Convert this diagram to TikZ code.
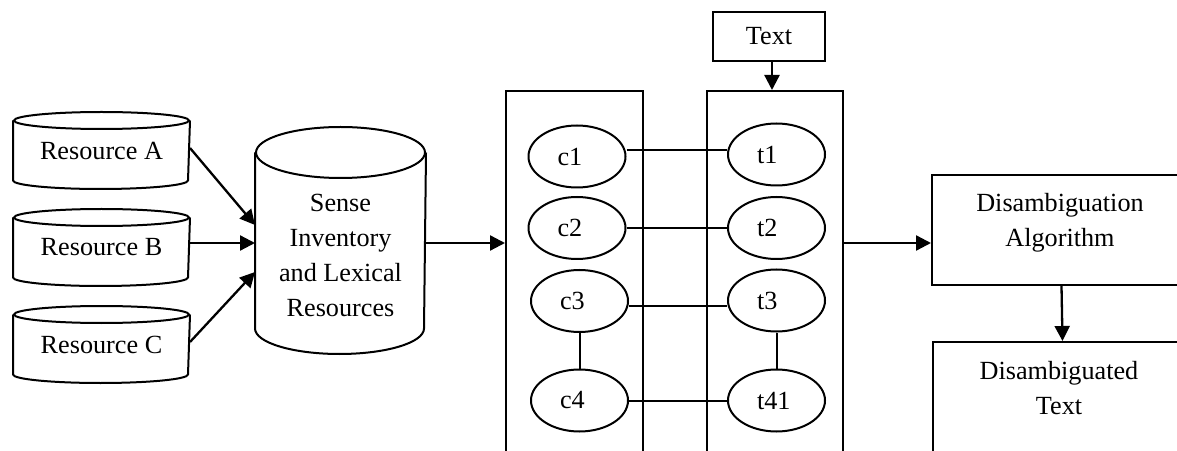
\documentclass[tikz,border=0pt]{standalone}
\usepackage{fontspec}
\setmainfont{Liberation Serif}
\usetikzlibrary{shapes.geometric,arrows.meta,calc}

% cylinder outline drawn around a body node: #1 node, #2 x radius, #3 y radius
\newcommand\drawcyl[3]{%
  \draw (#1.north west) -- (#1.south west)
        arc[start angle=180, end angle=360, x radius=#2, y radius=#3]
        -- (#1.north east);
  \draw (#1.north) ellipse [x radius=#2, y radius=#3];
}

\begin{document}
\begin{tikzpicture}[
  x=0.5pt, y=0.5pt,
  line width=1pt,
  every node/.style={font=\fontsize{13.1pt}{17.6pt}\selectfont},
  txt/.style={align=center, inner sep=0pt},
  cylbody/.style={minimum width=87.5pt, minimum height=29pt, inner sep=0pt},
  bigcyl/.style={minimum width=84.5pt, minimum height=87pt, inner sep=0pt},
  panel/.style={draw, minimum width=68.5pt, minimum height=184.5pt, inner sep=0pt},
  box/.style={draw, inner sep=0pt},
  ell/.style={ellipse, draw, minimum width=48.5pt, minimum height=31pt, inner sep=0pt},
  lbl/.style={anchor=west, inner sep=0pt},
  link/.style={line width=1pt},
  arr/.style={line width=1.15pt, -{Triangle[length=7.5pt, width=7.5pt]}}
]
\useasboundingbox (0,0) rectangle (1177,450);
\clip (0,0) rectangle (1177,450);

% resource cylinders
\node[cylbody] (ra) at (101.5,299.5) {Resource A};
\node[cylbody] (rb) at (101.5,202.5) {Resource B};
\node[cylbody] (rc) at (101.5,105.5) {Resource C};
\drawcyl{ra}{43.75pt}{4.25pt}
\drawcyl{rb}{43.75pt}{4.25pt}
\drawcyl{rc}{43.75pt}{4.25pt}

% sense inventory cylinder
\node[bigcyl] (sense) at (340.5,209.5) {};
\drawcyl{sense}{42.25pt}{12.75pt}
\node[txt, anchor=north] (sensetxt) at (340.5,257)
  {Sense\\Inventory\\and Lexical\\Resources};

\draw[arr] ($(ra.east)+(0,2.5)$) -- ($(sense.west)+(0,15.5)$);
\draw[arr] ($(rb.east)+(0,4.5)$) -- ($(sense.west)+(0,-2.5)$);
\draw[arr] ($(rc.east)+(0,2.5)$) -- ($(sense.west)+(0,-31.5)$);

% concept and text panels
\node[panel] (lrect) at (574.5,174.5) {};
\node[panel, minimum width=68pt] (rrect) at (775,174.5) {};
\draw[arr] ($(sense.east)+(0,-2.5)$) -- ($(lrect.west)+(0,32.5)$);

\node[box, minimum width=56pt, minimum height=24.5pt] (tbox) at (769,413.5) {Text};
\coordinate (tdrop) at ($(tbox.south)+(3,0)$);
\draw[arr] (tdrop) -- (tdrop |- rrect.north);

% concept nodes
\node[ell] (c1) at (577,293.5) {};
\node[ell] (c2) at (577,222) {};
\node[ell] (c3) at (579.5,149) {};
\node[ell] (c4) at (579.5,49.5) {};
\node[lbl] (c1t) at ($(c1.west)+(29,0)$) {c1};
\node[lbl] (c2t) at ($(c2.west)+(29,0)$) {c2};
\node[lbl] (c3t) at ($(c3.west)+(29,0)$) {c3};
\node[lbl] (c4t) at ($(c4.west)+(29,0)$) {c4};

% text nodes
\node[ell] (t1) at (776.5,295.5) {};
\node[ell] (t2) at (776.5,222) {};
\node[ell] (t3) at (776.5,149.5) {};
\node[ell] (t41) at (776.5,49.5) {};
\node[lbl] (t1t) at ($(t1.west)+(29,0)$) {t1};
\node[lbl] (t2t) at ($(t2.west)+(29,0)$) {t2};
\node[lbl] (t3t) at ($(t3.west)+(29,0)$) {t3};
\node[lbl] (t41t) at ($(t41.west)+(29,0)$) {t41};

% links
\draw[link] ($(c1.east)+(0,6)$) -- ($(t1.west)+(0,4)$);
\draw[link] (c2.east) -- (t2.west);
\draw[link] ($(c3.east)+(0,-4.7)$) -- ($(t3.west)+(0,-5.2)$);
\draw[link] (c4.east) -- (t41.west);
\draw[link] (c3.south) -- (c4.north);
\draw[link] (t3.south) -- (t41.north);

% disambiguation
\node[box, minimum width=129.5pt, minimum height=55pt] (algo) at (1061.5,220) {};
\node[txt, anchor=north] (algotxt) at (1060,258) {Disambiguation\\Algorithm};
\node[box, minimum width=129.5pt, minimum height=59pt] (dis) at (1062.5,49) {};
\node[txt, anchor=north] (distxt) at (1059,90) {Disambiguated\\Text};

\draw[arr] ($(rrect.east)+(0,32.5)$) -- ($(algo.west)+(0,-13)$);
\draw[arr] (algo.south) -- (dis.north);
\end{tikzpicture}
\end{document}
